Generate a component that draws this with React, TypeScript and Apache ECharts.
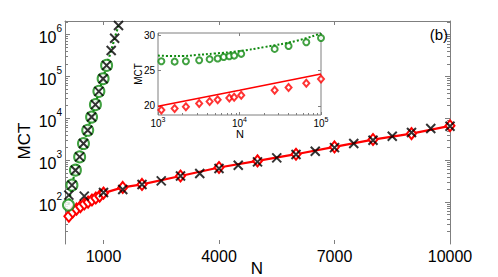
import React, { useEffect, useRef } from "react";
import * as echarts from "echarts";

// ---------- main panel data ----------
const redN = [100, 200, 300, 400, 500, 600, 700, 800, 900, 1000, 1500, 2000, 3000, 4000, 5000, 6000, 7000, 8000, 9000, 10000];
const redV = [46, 58, 68, 78, 90, 100, 112, 125, 139, 164, 224, 264, 420, 670, 962, 1390, 2075, 3110, 4320, 6620];

const greenN = [90, 180, 270, 380, 480, 590, 690, 790, 880, 990, 1080];
const greenV = [85, 254, 578, 1200, 2500, 5180, 10700, 21200, 44000, 88000, 183000];

const greenLineN = [90, 180, 270, 380, 480, 590, 690, 790, 880, 990, 1080, 1200, 1290, 1390];
const greenLineV = [85, 254, 578, 1200, 2500, 5180, 10700, 21200, 44000, 88000, 183000, 416000, 817000, 1640000];

const crossAN = [180, 270, 380, 480, 590, 690, 790, 880, 990, 1080, 1200, 1290, 1390];
const crossAV = [254, 578, 1200, 2500, 5180, 10700, 21200, 44000, 88000, 183000, 416000, 817000, 1640000];

const crossBN = [100, 500, 1000, 1500, 2000, 2500, 3000, 3500, 4000, 4500, 5000, 5500, 6000, 6500, 7000, 7500, 8000, 8500, 9000, 9500, 10000];
const crossBV = [147, 139, 170, 200, 264, 321, 420, 482, 634, 760, 912, 1135, 1370, 1640, 2000, 2500, 2990, 3730, 4600, 5690, 6450];

const mainXTicks = [1000, 4000, 7000, 10000];
const mainYTicks = [100, 1000, 10000, 100000, 1000000];

// ---------- inset data ----------
const insetN = [1100, 1600, 2200, 3200, 4300, 5400, 6400, 7500, 8600, 10500, 27000, 40000, 66000, 100000];
const insetGreenV = [26.3, 26.25, 26.3, 26.45, 26.6, 26.7, 26.9, 27.0, 27.1, 27.35, 28.05, 28.45, 29.0, 29.6];
const insetRedN = [1100, 1600, 2200, 3200, 4300, 5400, 7500, 8600, 10500, 27000, 40000, 66000, 100000];
const insetRedV = [19.4, 19.62, 19.86, 20.32, 20.6, 20.85, 21.1, 21.22, 21.5, 22.2, 22.6, 23.2, 23.8];

const insetTheoryGreenN = [1000, 1500, 2000, 3000, 5000, 10000, 20000, 50000, 100000];
const insetTheoryGreenV = [27.1, 27.05, 27.05, 27.2, 27.4, 27.75, 28.3, 29.2, 30.25];
const insetTheoryRedN = [1000, 10000, 100000];
const insetTheoryRedV = [19.95, 22.2, 24.5];

const insetXTicks = [1000, 10000, 100000];
const insetYTicks = [20, 25, 30];

const zip = (a: number[], b: number[]) => a.map((v, i) => [v, b[i]]);

function minorLog(lo: number, hi: number, kFrom: number, kTo: number) {
  const out: number[] = [];
  for (let k = kFrom; k <= kTo; k++) {
    for (let j = 2; j <= 9; j++) {
      const v = j * Math.pow(10, k);
      if (v > lo && v < hi) out.push(v);
    }
  }
  return out;
}

const GRAY = "#7f7f7f";
const RED = "#ff0000";
const GREEN = "#118a11";
const FONT = "Liberation Sans";
const CROSS = "path://M0,0L10,10M0,10L10,0";

export default function App() {
  const ref = useRef<HTMLDivElement>(null);
  useEffect(() => {
    if (!ref.current) return;
    const chart = echarts.init(ref.current, undefined, { renderer: "svg" });
    const Y_MIN = 10, Y_MAX = 2.1e6;
    const mainMinor = minorLog(Y_MIN, Y_MAX, 1, 6);
    const insetMinor = minorLog(1000, 100000, 3, 4);
    const supFmt = (v: number) => `{b|10}{s|${Math.round(Math.log10(v))}}`;
    const mainRich = {
      b: { fontSize: 16, lineHeight: 22, verticalAlign: "bottom", fontFamily: FONT, color: "#000" },
      s: { fontSize: 10, lineHeight: 12, verticalAlign: "top", fontFamily: FONT, color: "#000" },
    };
    const insetRich = {
      b: { fontSize: 10, lineHeight: 12, verticalAlign: "bottom", fontFamily: FONT, color: "#000" },
      s: { fontSize: 7, lineHeight: 8, verticalAlign: "top", fontFamily: FONT, color: "#000" },
    };
    const hidden = { show: false };
    const tickStyle = (len: number, values: number[]) => ({
      show: true,
      inside: true,
      length: len,
      customValues: values,
      lineStyle: { color: GRAY, width: 1 },
    });

    chart.setOption({
      animation: false,
      backgroundColor: "#fff",
      textStyle: { fontFamily: FONT },
      grid: [
        { left: 65, right: 48, top: 21, bottom: 33, containLabel: false },
        {
          left: 158, right: 177, top: 33, bottom: 162, containLabel: false,
          show: true, backgroundColor: "#fff", borderColor: GRAY, borderWidth: 1, z: 5,
        },
      ],
      xAxis: [
        {
          gridIndex: 0, type: "value", position: "bottom", min: 0, max: 10000,
          axisLine: hidden, splitLine: hidden,
          axisTick: tickStyle(4, mainXTicks),
          axisLabel: {
            customValues: mainXTicks, formatter: (v: number) => String(v),
            fontSize: 16, color: "#000", margin: 4, fontFamily: FONT,
          },
        },
        {
          gridIndex: 0, type: "value", position: "top", min: 0, max: 10000,
          axisLine: { show: true, lineStyle: { color: GRAY, width: 1 } }, splitLine: hidden,
          axisTick: tickStyle(4, mainXTicks), axisLabel: hidden,
        },
        {
          gridIndex: 1, type: "log", position: "bottom", min: 1000, max: 100000, logBase: 10,
          axisLine: hidden, splitLine: hidden,
          axisTick: tickStyle(3, insetXTicks),
          axisLabel: { customValues: insetXTicks, formatter: supFmt, rich: insetRich, margin: 1 },
          z: 6,
        },
        {
          gridIndex: 1, type: "log", position: "bottom", min: 1000, max: 100000,
          axisLine: hidden, splitLine: hidden, axisLabel: hidden,
          axisTick: tickStyle(2, insetMinor), z: 6,
        },
        {
          gridIndex: 1, type: "log", position: "top", min: 1000, max: 100000,
          axisLine: hidden, splitLine: hidden, axisLabel: hidden,
          axisTick: tickStyle(3, insetXTicks), z: 6,
        },
      ],
      yAxis: [
        {
          gridIndex: 0, type: "log", position: "left", min: Y_MIN, max: Y_MAX, logBase: 10,
          axisLine: { show: true, lineStyle: { color: GRAY, width: 1 } }, splitLine: hidden,
          axisTick: tickStyle(5, mainYTicks),
          axisLabel: { customValues: mainYTicks, formatter: supFmt, rich: mainRich, margin: 3 },
        },
        {
          gridIndex: 0, type: "log", position: "left", min: Y_MIN, max: Y_MAX,
          axisLine: hidden, splitLine: hidden, axisLabel: hidden,
          axisTick: tickStyle(3, mainMinor),
        },
        {
          gridIndex: 0, type: "log", position: "right", min: Y_MIN, max: Y_MAX,
          axisLine: { show: true, lineStyle: { color: GRAY, width: 1 } }, splitLine: hidden,
          axisLabel: hidden, axisTick: tickStyle(5, mainYTicks),
        },
        {
          gridIndex: 0, type: "log", position: "right", min: Y_MIN, max: Y_MAX,
          axisLine: hidden, splitLine: hidden, axisLabel: hidden,
          axisTick: tickStyle(3, mainMinor),
        },
        {
          gridIndex: 1, type: "value", position: "left", min: 18.7, max: 30.3,
          axisLine: hidden, splitLine: hidden,
          axisTick: tickStyle(3, insetYTicks),
          axisLabel: { customValues: insetYTicks, fontSize: 10, color: "#000", margin: 3, fontFamily: FONT },
          z: 6,
        },
        {
          gridIndex: 1, type: "value", position: "right", min: 18.7, max: 30.3,
          axisLine: hidden, splitLine: hidden, axisLabel: hidden,
          axisTick: tickStyle(3, insetYTicks), z: 6,
        },
      ],
      graphic: [
        {
          type: "text", right: 50, top: 27, z: 10,
          style: { text: "(b)", fontSize: 15, fill: "#000", fontFamily: FONT },
        },
        {
          type: "text", x: 257, y: 268, z: 10,
          style: { text: "N", fontSize: 17, fill: "#000", fontFamily: FONT, textAlign: "center", textVerticalAlign: "middle" },
        },
        {
          type: "text", x: 24, y: 141, rotation: Math.PI / 2, z: 10,
          style: { text: "MCT", fontSize: 17, fill: "#000", fontFamily: FONT, textAlign: "center", textVerticalAlign: "middle" },
        },
        {
          type: "text", x: 240, y: 134, z: 10,
          style: { text: "N", fontSize: 11, fill: "#000", fontFamily: FONT, textAlign: "center", textVerticalAlign: "middle" },
        },
        {
          type: "text", x: 138, y: 74, rotation: Math.PI / 2, z: 10,
          style: { text: "MCT", fontSize: 10, fill: "#000", fontFamily: FONT, textAlign: "center", textVerticalAlign: "middle" },
        },
      ],
      series: [
        {
          type: "line", xAxisIndex: 0, yAxisIndex: 0, data: zip(redN, redV),
          symbol: "emptyDiamond", symbolSize: [9, 11],
          itemStyle: { color: RED, borderWidth: 1.6 },
          lineStyle: { color: RED, width: 2.2 }, z: 3,
        },
        {
          type: "line", xAxisIndex: 0, yAxisIndex: 0, data: zip(greenLineN, greenLineV),
          symbol: "none", lineStyle: { color: GREEN, width: 2.2, type: "dotted" }, z: 3,
        },
        {
          type: "scatter", xAxisIndex: 0, yAxisIndex: 0, data: zip(greenN, greenV),
          symbol: "emptyCircle", symbolSize: 11,
          itemStyle: { color: GREEN, borderColor: GREEN, borderWidth: 2 }, z: 4,
        },
        {
          type: "scatter", xAxisIndex: 0, yAxisIndex: 0, data: zip(crossAN, crossAV),
          symbol: CROSS, symbolSize: 9,
          itemStyle: { color: "none", borderColor: "#000", borderWidth: 2 }, z: 5,
        },
        {
          type: "scatter", xAxisIndex: 0, yAxisIndex: 0, data: zip(crossBN, crossBV),
          symbol: CROSS, symbolSize: 9,
          itemStyle: { color: "none", borderColor: "#000", borderWidth: 2 }, z: 5,
        },
        // inset
        {
          type: "line", xAxisIndex: 2, yAxisIndex: 4, data: zip(insetTheoryGreenN, insetTheoryGreenV),
          symbol: "none", smooth: true, lineStyle: { color: GREEN, width: 2, type: "dotted" }, z: 7,
        },
        {
          type: "line", xAxisIndex: 2, yAxisIndex: 4, data: zip(insetTheoryRedN, insetTheoryRedV),
          symbol: "none", lineStyle: { color: RED, width: 1.5 }, z: 7,
        },
        {
          type: "scatter", xAxisIndex: 2, yAxisIndex: 4, data: zip(insetN, insetGreenV),
          symbol: "emptyCircle", symbolSize: 6,
          itemStyle: { color: GREEN, borderColor: GREEN, borderWidth: 1.2 }, z: 8,
        },
        {
          type: "scatter", xAxisIndex: 2, yAxisIndex: 4, data: zip(insetRedN, insetRedV),
          symbol: "emptyDiamond", symbolSize: [6, 7],
          itemStyle: { color: RED, borderColor: RED, borderWidth: 1.2 }, z: 8,
        },
      ],
    });
    return () => chart.dispose();
  }, []);
  return (
    <div
      ref={ref}
      style={{ position: "fixed", left: 0, top: 0, width: 498, height: 277, background: "#fff" }}
    />
  );
}
